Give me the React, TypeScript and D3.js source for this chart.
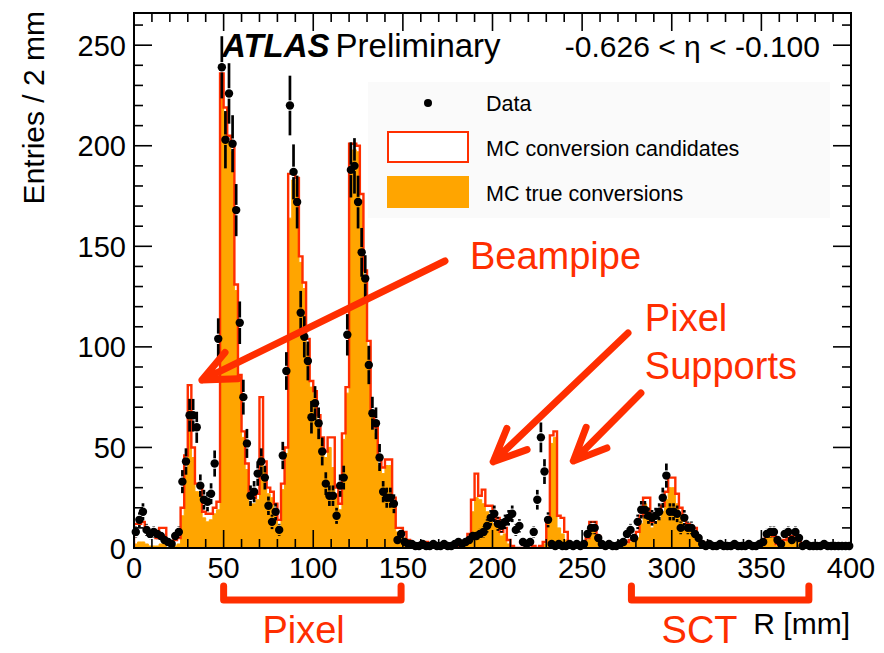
import React from "react";
import * as d3 from "d3";

// Histogram binning along the conversion radius
const BIN_WIDTH = 2; // mm
const R_RANGE: [number, number] = [0, 400];
const Y_RANGE: [number, number] = [0, 266];

// MC conversion candidates (entries per 2 mm bin, R = 0 .. 400 mm)
const candidates: number[] = [
  12, 12, 13, 10, 8, 7, 5, 10, 10, 2,
  3, 4, 5, 20, 46, 81, 50, 32, 31, 18,
  17, 17, 20, 23, 236, 219, 205, 200, 131, 86,
  58, 42, 25, 25, 27, 75, 43, 30, 28, 22,
  14, 32, 50, 186, 186, 184, 145, 132, 104, 83,
  78, 66, 55, 48, 55, 55, 30, 22, 57, 80,
  201, 201, 200, 176, 138, 103, 68, 60, 44, 40,
  44, 44, 25, 10, 10, 8, 4, 2, 1, 1,
  0, 3, 1, 0, 1, 0, 1, 0, 1, 0,
  1, 1, 2, 7, 24, 37, 26, 29, 21, 21,
  14, 15, 8, 10, 4, 1, 0, 0, 0, 0,
  0, 1, 0, 1, 3, 14, 56, 58, 16, 15,
  8, 2, 1, 0, 1, 2, 5, 13, 13, 6,
  1, 1, 0, 1, 1, 1, 2, 3, 4, 5,
  8, 16, 25, 25, 13, 17, 18, 21, 28, 35,
  35, 27, 20, 14, 12, 11, 10, 4, 3, 1,
  0, 1, 0, 0, 1, 0, 0, 1, 0, 0,
  1, 0, 0, 1, 0, 2, 6, 7, 6, 2,
  1, 4, 5, 6, 5, 4, 2, 1, 0, 0,
  0, 0, 1, 0, 0, 0, 0, 0, 0, 0,
];

// MC true conversions
const trueConversions: number[] = [
  2, 3, 3, 2, 1, 1, 1, 2, 2, 0,
  1, 1, 2, 16, 40, 74, 45, 28, 27, 15,
  13, 14, 17, 19, 234, 216, 202, 197, 128, 83,
  55, 39, 22, 22, 24, 46, 40, 27, 25, 19,
  11, 29, 47, 164, 183, 181, 142, 129, 101, 80,
  75, 63, 52, 45, 50, 40, 27, 19, 54, 77,
  186, 198, 197, 173, 135, 100, 65, 57, 41, 37,
  41, 41, 22, 8, 8, 5, 2, 1, 0, 0,
  0, 2, 0, 0, 0, 0, 0, 0, 0, 0,
  0, 0, 1, 5, 18, 25, 24, 22, 18, 14,
  12, 11, 6, 7, 2, 0, 0, 0, 0, 0,
  0, 0, 0, 0, 2, 12, 52, 55, 10, 7,
  4, 1, 0, 0, 0, 1, 4, 11, 10, 4,
  0, 0, 0, 0, 0, 0, 1, 2, 3, 3,
  5, 12, 22, 20, 10, 12, 14, 18, 24, 30,
  30, 22, 17, 11, 10, 9, 8, 3, 2, 0,
  0, 0, 0, 0, 0, 0, 0, 0, 0, 0,
  0, 0, 0, 0, 0, 1, 5, 6, 5, 1,
  0, 3, 4, 5, 4, 3, 1, 0, 0, 0,
  0, 0, 0, 0, 0, 0, 0, 0, 0, 0,
];

// Data entries
const dataCounts: number[] = [
  8, 14, 18, 9, 7, 8, 7, 6, 4, 3,
  2, 6, 8, 33, 43, 66, 66, 60, 31, 24,
  23, 27, 42, 104, 239, 203, 226, 201, 168, 112,
  75, 52, 26, 28, 37, 43, 35, 21, 13, 18,
  9, 46, 88, 220, 187, 172, 117, 105, 93, 65,
  72, 62, 48, 32, 26, 26, 16, 31, 35, 106,
  188, 190, 172, 147, 134, 91, 67, 62, 45, 28,
  25, 25, 22, 4, 7, 3, 2, 2, 1, 1,
  2, 1, 1, 2, 1, 1, 2, 1, 1, 2,
  3, 2, 3, 4, 6, 6, 7, 8, 11, 15,
  17, 12, 11, 13, 15, 17, 9, 11, 3, 2,
  3, 8, 24, 55, 38, 14, 2, 1, 2, 1,
  1, 2, 1, 2, 1, 2, 7, 10, 10, 5,
  2, 1, 2, 1, 1, 2, 3, 7, 9, 5,
  13, 19, 19, 16, 15, 16, 18, 25, 36, 18,
  18, 17, 10, 15, 10, 10, 7, 5, 2, 1,
  2, 1, 1, 2, 1, 1, 1, 2, 1, 1,
  1, 2, 1, 1, 2, 3, 7, 8, 8, 4,
  2, 7, 8, 4, 8, 5, 1, 2, 1, 1,
  1, 1, 2, 1, 1, 1, 1, 1, 1, 1,
];

const xTickLabels = [0, 50, 100, 150, 200, 250, 300, 350, 400];
const yTickLabels = [0, 50, 100, 150, 200, 250];
const legendLabels = ["Data", "MC conversion candidates", "MC true conversions"];

const RED = "#ff2e00";
const ORANGE = "#ffa500";
const FONT = "'Liberation Sans', Arial, Helvetica, sans-serif";

type Pt = { r: number; v: number };

export default function App() {
  const W = 884;
  const H = 653;
  const x = d3.scaleLinear().domain(R_RANGE).range([134, 851]);
  const y = d3.scaleLinear().domain(Y_RANGE).range([548, 13]);
  const [x0, x1] = x.range();
  const [yb, yt] = y.range();

  const toSteps = (vals: number[]): Pt[] => {
    const pts: Pt[] = [{ r: 0, v: 0 }];
    vals.forEach((v, i) => pts.push({ r: i * BIN_WIDTH, v }));
    pts.push({ r: vals.length * BIN_WIDTH, v: vals[vals.length - 1] });
    pts.push({ r: vals.length * BIN_WIDTH, v: 0 });
    return pts;
  };

  const area = d3
    .area<Pt>()
    .curve(d3.curveStepAfter)
    .x((d) => x(d.r))
    .y0(y(0))
    .y1((d) => y(d.v));
  const line = d3
    .line<Pt>()
    .curve(d3.curveStepAfter)
    .x((d) => x(d.r))
    .y((d) => y(d.v));

  const truePath = area(toSteps(trueConversions)) || "";
  const candPath = line(toSteps(candidates)) || "";

  // Tick marks
  const xMinor = d3.range(R_RANGE[0], R_RANGE[1] + 1, 10);
  const yMinor = d3.range(Y_RANGE[0], Y_RANGE[1], 10);
  const majorLen = 18;
  const minorLen = 9;

  const markerR = 4.2;

  // Annotation arrows: [from R, from value, to R, to value]
  const arrows: [number, number, number, number][] = [
    [173.5, 142.7, 37.9, 83.5],
    [275.6, 106.9, 200.4, 42.9],
    [282.8, 77.1, 245.1, 43.3],
  ];
  const arrowHead = (a: [number, number, number, number]) => {
    const xs = x(a[0]);
    const ys = y(a[1]);
    const xe = x(a[2]);
    const ye = y(a[3]);
    const ang = Math.atan2(ys - ye, xs - xe);
    const len = 36;
    const spread = (24 * Math.PI) / 180;
    const p1 = [xe + len * Math.cos(ang + spread), ye + len * Math.sin(ang + spread)];
    const p2 = [xe + len * Math.cos(ang - spread), ye + len * Math.sin(ang - spread)];
    return `M${xs},${ys}L${xe},${ye}M${p1[0]},${p1[1]}L${xe},${ye}L${p2[0]},${p2[1]}`;
  };

  const bracket = (ra: number, rb: number) =>
    `M${x(ra)},586V600H${x(rb)}V586`;

  return (
    <svg
      width={W}
      height={H}
      viewBox={`0 0 ${W} ${H}`}
      style={{ position: "absolute", left: 0, top: 0, background: "#fff" }}
      fontFamily={FONT}
    >
      <rect x={0} y={0} width={W} height={H} fill="#fff" />
      <defs>
        <clipPath id="plot-area">
          <rect x={x0} y={yt} width={x1 - x0} height={yb - yt} />
        </clipPath>
      </defs>

      {/* legend panel */}
      <rect x={368} y={82} width={462} height={136} fill="#fafafa" />

      <g clipPath="url(#plot-area)">
        <path d={truePath} fill={ORANGE} stroke={ORANGE} strokeWidth={1} />
        <path d={candPath} fill="none" stroke={RED} strokeWidth={2.4} strokeLinejoin="miter" />
      </g>

      {/* data points with statistical errors */}
      <g>
        {dataCounts.map((v, i) => {
          const cx = x(i * BIN_WIDTH + BIN_WIDTH / 2);
          const cy = y(v);
          const err = Math.sqrt(v);
          const top = y(v + err);
          const bot = y(Math.max(0, v - err));
          const gap = markerR + 1;
          return (
            <g key={i}>
              {cy - gap > top && (
                <line x1={cx} x2={cx} y1={top} y2={cy - gap} stroke="#000" strokeWidth={2.7} />
              )}
              {bot > cy + gap && (
                <line x1={cx} x2={cx} y1={cy + gap} y2={bot} stroke="#000" strokeWidth={2.7} />
              )}
              <circle cx={cx} cy={cy} r={markerR} fill="#000" />
            </g>
          );
        })}
      </g>

      {/* frame */}
      <rect x={x0} y={yt} width={x1 - x0} height={yb - yt} fill="none" stroke="#000" strokeWidth={2} />

      {/* ticks */}
      <g stroke="#000" strokeWidth={1.6}>
        {xMinor.map((r) => {
          const len = r % 50 === 0 ? majorLen : minorLen;
          return (
            <g key={`xt${r}`}>
              <line x1={x(r)} x2={x(r)} y1={yb} y2={yb - len} />
              <line x1={x(r)} x2={x(r)} y1={yt} y2={yt + len} />
            </g>
          );
        })}
        {yMinor.map((v) => {
          const len = v % 50 === 0 ? majorLen : minorLen;
          return (
            <g key={`yt${v}`}>
              <line x1={x0} x2={x0 + len} y1={y(v)} y2={y(v)} />
              <line x1={x1} x2={x1 - len} y1={y(v)} y2={y(v)} />
            </g>
          );
        })}
      </g>

      {/* tick labels */}
      <g fontSize={29} fill="#000">
        {xTickLabels.map((t) => (
          <text key={`xl${t}`} x={x(t)} y={578} textAnchor="middle">
            {t}
          </text>
        ))}
        {yTickLabels.map((t) => (
          <text key={`yl${t}`} x={126} y={y(t) + 10.5} textAnchor="end">
            {t}
          </text>
        ))}
      </g>

      {/* axis titles */}
      <text x={850} y={634} fontSize={30} textAnchor="end" fill="#000">
        R [mm]
      </text>
      <text
        transform="translate(44,11) rotate(-90)"
        fontSize={30}
        textAnchor="end"
        fill="#000"
      >
        Entries / 2 mm
      </text>

      {/* labels */}
      <text x={222} y={57} fontSize={33} fill="#000">
        <tspan fontWeight="bold" fontStyle="italic">ATLAS</tspan>
        <tspan dx={6}>Preliminary</tspan>
      </text>
      <text x={820} y={57} fontSize={30} textAnchor="end" fill="#000">
        -0.626 &lt; η &lt; -0.100
      </text>

      {/* legend */}
      <circle cx={428} cy={103} r={4} fill="#000" />
      <rect x={388} y={132} width={80} height={30} fill="#fff" stroke={RED} strokeWidth={2} />
      <rect x={387} y={176} width={82} height={32} fill={ORANGE} />
      <g fontSize={21.5} fill="#000">
        {legendLabels.map((l, i) => (
          <text key={l} x={486} y={111 + i * 45}>
            {l}
          </text>
        ))}
      </g>

      {/* annotations */}
      <g stroke={RED} strokeWidth={7} fill="none" strokeLinecap="round" strokeLinejoin="round">
        {arrows.map((a, i) => (
          <path key={`ar${i}`} d={arrowHead(a)} />
        ))}
        <path d={bracket(50, 149)} />
        <path d={bracket(277.5, 376.5)} />
      </g>
      <g fill={RED} fontSize={38}>
        <text x={x(187.4)} y={y(138.7)}>Beampipe</text>
        <text x={x(285)} y={y(107.9)}>Pixel</text>
        <text x={x(285)} y={y(84)}>Supports</text>
        <text x={x(94.6)} y={643} textAnchor="middle">Pixel</text>
        <text x={x(315.5)} y={643} textAnchor="middle">SCT</text>
      </g>
    </svg>
  );
}
